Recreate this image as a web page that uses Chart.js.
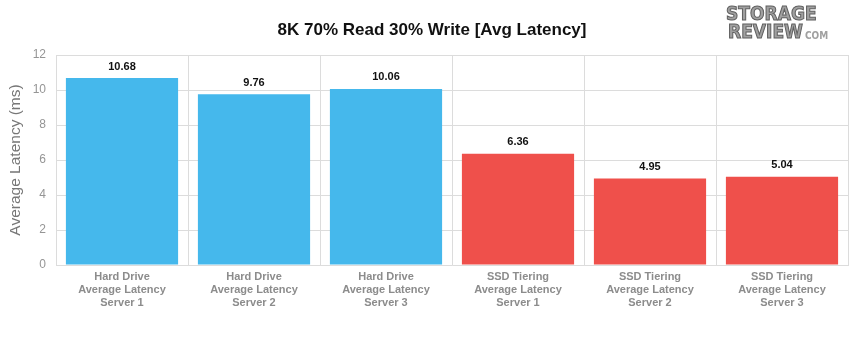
<!DOCTYPE html>
<html>
<head>
<meta charset="utf-8">
<script src="https://cdn.jsdelivr.net/npm/chart.js@4/dist/chart.umd.min.js"></script>
<style>
  html, body { margin: 0; padding: 0; background: #fff; }
  #wrap { width: 850px; height: 337px; }
</style>
</head>
<body>
<div id="wrap"><canvas id="chart" width="850" height="337"></canvas></div>
<script>
// --- DATA ---
const categories = [
    ["Hard Drive", "Average Latency", "Server 1"],
    ["Hard Drive", "Average Latency", "Server 2"],
    ["Hard Drive", "Average Latency", "Server 3"],
    ["SSD Tiering", "Average Latency", "Server 1"],
    ["SSD Tiering", "Average Latency", "Server 2"],
    ["SSD Tiering", "Average Latency", "Server 3"]
];
const latencyValues = [10.68, 9.76, 10.06, 6.36, 4.95, 5.04];
const barColors = ["#45b8ec", "#45b8ec", "#45b8ec", "#ef504b", "#ef504b", "#ef504b"];
const yTicks = [0, 2, 4, 6, 8, 10, 12];

const chartTitle = "8K 70% Read 30% Write [Avg Latency]";
const yTitle = "Average Latency (ms)";

// --- PLUGINS ---
const headerPlugin = {
    id: 'header',
    afterDraw(chart) {
        const ctx = chart.ctx;
        ctx.save();
        ctx.fillStyle = '#111';
        ctx.font = 'bold 17px "Liberation Sans", Arial, sans-serif';
        ctx.textAlign = 'center';
        ctx.textBaseline = 'middle';
        ctx.fillText(chartTitle, 432, 30);

        // logo stand-in
        ctx.fillStyle = '#a0a0a0';
        ctx.strokeStyle = '#606060';
        ctx.lineWidth = 1;
        ctx.font = 'bold 19px "DejaVu Sans Condensed", "Liberation Sans Narrow", sans-serif';
        ctx.textAlign = 'left';
        ctx.fillText("STORAGE", 726, 15);
        ctx.strokeText("STORAGE", 726, 15);
        ctx.fillText("REVIEW", 728, 33);
        ctx.strokeText("REVIEW", 728, 33);
        ctx.font = 'bold 10px "DejaVu Sans Condensed", sans-serif';
        ctx.fillText("COM", 805, 36);
        ctx.restore();
    }
};

const valueLabels = {
    id: 'valueLabels',
    afterDatasetsDraw(chart) {
        const ctx = chart.ctx;
        const meta = chart.getDatasetMeta(0);
        ctx.save();
        ctx.fillStyle = '#111';
        ctx.font = 'bold 11px "Liberation Sans", Arial, sans-serif';
        ctx.textAlign = 'center';
        ctx.textBaseline = 'bottom';
        meta.data.forEach((bar, i) => {
            ctx.fillText(latencyValues[i].toFixed(2), bar.x, bar.y - 6);
        });
        ctx.restore();
    }
};

// --- CHART ---
new Chart(document.getElementById('chart'), {
    type: 'bar',
    data: {
        labels: categories,
        datasets: [{
            data: latencyValues,
            backgroundColor: barColors,
            borderWidth: 0,
            barPercentage: 0.85,
            categoryPercentage: 1.0
        }]
    },
    options: {
        responsive: false,
        animation: false,
        layout: { padding: { top: 55, right: 2, left: 0, bottom: 0 } },
        plugins: {
            legend: { display: false },
            tooltip: { enabled: false }
        },
        scales: {
            x: {
                grid: { color: '#dcdcdc', offset: true, drawTicks: false },
                border: { color: '#dcdcdc' },
                ticks: {
                    color: '#8c8c8c',
                    font: { family: '"Liberation Sans", Arial, sans-serif', size: 11, weight: 'bold', lineHeight: 1.15 },
                    padding: 6,
                    maxRotation: 0,
                    autoSkip: false
                },
                afterFit(scale) { scale.height = 72; }
            },
            y: {
                min: 0,
                max: 12,
                afterBuildTicks(scale) { scale.ticks = yTicks.map(v => ({ value: v })); },
                grid: { color: '#dcdcdc', drawTicks: false },
                border: { color: '#dcdcdc' },
                ticks: {
                    color: '#959595',
                    font: { family: '"Liberation Sans", Arial, sans-serif', size: 12 },
                    padding: 10
                },
                title: {
                    display: true,
                    text: yTitle,
                    color: '#777',
                    font: { family: '"Liberation Sans", Arial, sans-serif', size: 15.5 },
                    padding: { top: 6, bottom: 0 }
                },
                afterFit(scale) { scale.width = 56; }
            }
        }
    },
    plugins: [headerPlugin, valueLabels]
});
</script>
</body>
</html>
